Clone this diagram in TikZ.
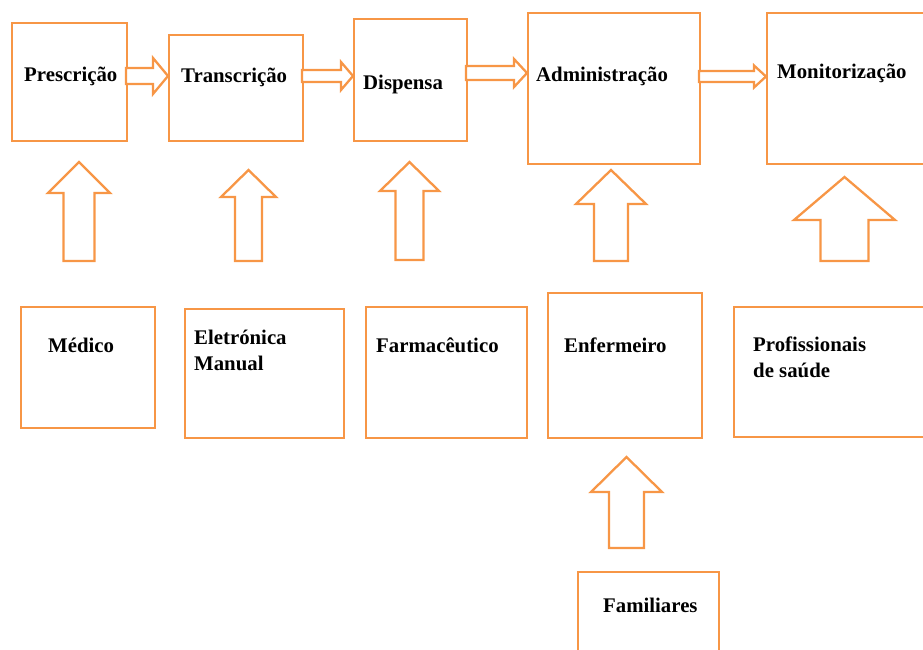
\documentclass[tikz,border=0pt]{standalone}
\usepackage{fontspec}
\setmainfont{Liberation Serif}
\definecolor{acc}{HTML}{F79646}
\newcommand\blkup[6]{\draw[barrow] (#1,#2) -- (#1+#4,#3) -- (#1+#5,#3) -- (#1+#5,#6) -- (#1-#5,#6) -- (#1-#5,#3) -- (#1-#4,#3) -- cycle;}
\newcommand\blkright[6]{\draw[barrow] (#1,#3-#4) -- (#6,#3-#4) -- (#6,#3-#5) -- (#2,#3) -- (#6,#3+#5) -- (#6,#3+#4) -- (#1,#3+#4) -- cycle;}
\begin{document}
\begin{tikzpicture}[x=1pt,y=-1pt,
  box/.style={draw=acc, line width=2.3pt, inner sep=0pt, anchor=north west},
  lbl/.style={anchor=base west, inner sep=0pt, font=\fontsize{20.8}{25.5}\selectfont\bfseries, align=left},
  barrow/.style={draw=acc, line width=2.3pt, fill=white, line join=miter}]
\useasboundingbox (0,0) rectangle (923,650);
% top row
\node[box, minimum width=115pt, minimum height=118pt] (presc) at (11,22) {};
\node[box, minimum width=134pt, minimum height=106pt] (trans) at (168,34) {};
\node[box, minimum width=113pt, minimum height=122pt] (disp) at (353,18) {};
\node[box, minimum width=172pt, minimum height=151pt] (admin) at (527,12) {};
\node[box, minimum width=175pt, minimum height=151pt] (monit) at (766,12) {};
% bottom row
\node[box, minimum width=134pt, minimum height=121pt] (medico) at (20,306) {};
\node[box, minimum width=159pt, minimum height=129pt] (eletr) at (184,308) {};
\node[box, minimum width=161pt, minimum height=131pt] (farm) at (365,306) {};
\node[box, minimum width=154pt, minimum height=145pt] (enf) at (547,292) {};
\node[box, minimum width=205pt, minimum height=130pt] (prof) at (733,306) {};
\node[box, minimum width=141pt, minimum height=95pt] (famil) at (577,571) {};
% labels
\node[lbl] (tpresc) at (24,82) {Prescrição};
\node[lbl] (ttrans) at (181,83) {Transcrição};
\node[lbl] (tdisp) at (363,90) {Dispensa};
\node[lbl] (tadmin) at (536,82) {Administração};
\node[lbl] (tmonit) at (777,79) {Monitorização};
\node[lbl] (tmedico) at (48,352) {Médico};
\node[lbl] (teletr) at (194,370) {Eletrónica\\Manual};
\node[lbl] (tfarm) at (376,352) {Farmacêutico};
\node[lbl] (tenf) at (564,352) {Enfermeiro};
\node[lbl] (tprof) at (753,377) {Profissionais\\de saúde};
\node[lbl] (tfamil) at (603,612) {Familiares};
% horizontal block arrows
\blkright{126}{168}{76}{8}{18}{153}
\blkright{302}{353}{76}{6}{14}{341}
\blkright{466}{527}{73}{7}{14}{514}
\blkright{699}{766}{76.5}{5.5}{11}{754}
% upward block arrows
\blkup{79}{162}{193}{31}{15.5}{261}
\blkup{248.5}{170}{197}{27.5}{13.5}{261}
\blkup{409.5}{162}{191}{29.5}{14}{260}
\blkup{611}{170}{204}{35}{17}{261}
\blkup{844.5}{177}{220}{50.5}{24}{261}
\blkup{626.5}{457}{492}{35.5}{17.5}{548}
\end{tikzpicture}
\end{document}
